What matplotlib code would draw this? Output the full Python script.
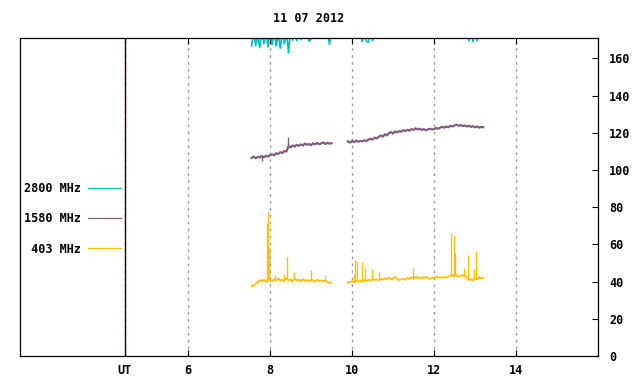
import numpy as np
import matplotlib
matplotlib.use('Agg')
import matplotlib.pyplot as plt

title = '11 07 2012'
step = 0.05
seg_starts = [7.55, 9.90]
ut_pos = 4.46
x_ticks = [6, 8, 10, 12, 14]
y_ticks = [0, 20, 40, 60, 80, 100, 120, 140, 160]

# 403 MHz
f403_a = [37.5, 37.8, 38.8, 39.6, 40.8, 40.2, 41.0, 39.8, 41.5, 40.6,
          40.2, 41.3, 40.5, 41.8, 40.4, 41.0, 40.2, 42.0, 40.5, 41.2,
          40.0, 41.6, 40.6, 41.0, 40.1, 41.4, 40.3, 40.9, 40.0, 41.2,
          40.4, 40.0, 41.0, 40.3, 40.6, 40.0, 40.8, 39.6, 39.4, 39.5]
f403_b = [39.5, 39.8, 40.2, 39.6, 40.4, 40.0, 40.6, 39.8, 40.8, 40.2,
          41.0, 40.4, 41.5, 40.8, 41.2, 40.6, 41.6, 41.0, 41.8, 41.2,
          42.2, 41.0, 41.8, 42.6, 41.4, 40.8, 41.2, 41.6, 41.0, 42.0,
          41.4, 42.4, 41.6, 42.8, 42.0, 41.6, 42.4, 41.8, 42.6, 42.0,
          41.4, 41.8, 42.3, 42.4, 42.2, 42.4, 42.0, 42.6, 42.2, 42.8,
          43.2, 43.6, 42.8, 43.4, 42.6, 43.0, 43.6, 42.8, 42.2, 40.8,
          41.4, 40.6, 42.0, 41.2, 42.4, 41.6, 42.0]
f403_spike_t = [7.915, 7.945, 7.97, 8.12, 8.34, 8.415, 8.585, 9.005, 9.34,
                10.045, 10.07, 10.12, 10.24, 10.32, 10.49, 10.66, 11.49,
                12.415, 12.49, 12.515, 12.73, 12.83, 12.975, 13.025]
f403_spike_v = [71.7, 77.7, 58.7, 43.6, 44.0, 53.3, 45.0, 46.0, 43.6,
                43.6, 51.7, 51.2, 50.6, 47.4, 46.9, 45.3, 47.4,
                66.3, 65.2, 55.5, 47.4, 54.4, 47.0, 56.6]

# 1580 MHz
f1580_a = [106.5, 107.2, 106.4, 107.0, 106.8, 107.5, 106.9, 107.6, 107.2, 108.0,
           108.4, 108.0, 109.0, 108.6, 109.6, 109.2, 110.2, 110.0, 112.8, 112.2,
           113.2, 112.6, 113.6, 113.0, 113.8, 113.2, 114.2, 113.6, 114.0, 113.4,
           114.4, 113.8, 114.6, 113.9, 114.3, 114.8, 114.0, 114.6, 114.2, 114.4]
f1580_b = [115.4, 114.8, 115.6, 115.0, 115.8, 115.2, 115.6, 115.4, 116.0, 115.6,
           116.4, 116.8, 116.4, 117.4, 117.0, 117.8, 118.6, 118.0, 119.2, 118.6,
           119.8, 120.4, 119.6, 120.8, 120.2, 121.0, 120.6, 121.4, 121.0, 121.6,
           121.2, 122.0, 121.6, 122.4, 121.8, 122.2, 121.6, 122.0, 121.4, 121.8,
           122.2, 121.8, 122.0, 122.6, 122.2, 122.8, 123.2, 122.8, 123.4, 123.0,
           123.8, 123.4, 124.0, 124.4, 123.8, 124.2, 123.6, 124.0, 123.4, 123.8,
           123.2, 123.6, 123.0, 123.4, 122.8, 123.2, 123.0]
f1580_spike_t = [7.81, 8.44]
f1580_spike_v = [105.0, 117.5]

# 2800 MHz (mostly above the top of the plot)
f2800_a = [166.5, 175.0, 167.0, 172.0, 165.8, 175.0, 168.0, 174.0, 166.2, 175.0,
           167.4, 175.0, 166.8, 173.0, 165.5, 175.0, 167.8, 175.0, 163.0, 175.0,
           169.8, 175.0, 169.6, 175.0, 170.0, 175.0, 175.0, 175.0, 169.2, 170.4,
           175.0, 175.0, 175.0, 175.0, 175.0, 175.0, 175.0, 175.0, 167.5, 175.0]
f2800_b = [175.0, 175.0, 175.0, 175.0, 175.0, 175.0, 175.0, 169.0, 175.0, 169.2,
           168.8, 175.0, 169.4, 175.0, 175.0, 175.0, 175.0, 175.0, 175.0, 175.0,
           175.0, 175.0, 175.0, 175.0, 175.0, 175.0, 175.0, 175.0, 175.0, 175.0,
           175.0, 175.0, 175.0, 175.0, 175.0, 175.0, 175.0, 175.0, 175.0, 175.0,
           175.0, 175.0, 175.0, 175.0, 175.0, 175.0, 175.0, 175.0, 175.0, 175.0,
           175.0, 175.0, 175.0, 175.0, 175.0, 175.0, 175.0, 175.0, 175.0, 169.4,
           175.0, 169.0, 175.0, 169.6, 175.0, 175.0, 175.0]


def build(parts):
    ts, vs = [], []
    for t0, vals in zip(seg_starts, parts):
        ts += list(t0 + step * np.arange(len(vals))) + [np.nan]
        vs += list(vals) + [np.nan]
    return np.array(ts), np.array(vs)


def spikes(ax, t, v, spike_t, spike_v, color):
    # thin vertical bursts, starting from the nearest sample of the series
    ok = ~np.isnan(v)
    base = [v[ok][np.argmin(np.abs(t[ok] - st))] for st in spike_t]
    ax.vlines(spike_t, base, spike_v, color=color, lw=1.0)


plt.rcParams['font.family'] = 'DejaVu Sans Mono'
plt.rcParams['font.weight'] = 'bold'
plt.rcParams['font.size'] = 8.5

fig = plt.figure(figsize=(6.4, 3.84), dpi=100)
ax = fig.add_axes([20 / 640, 1 - 356 / 384, 578 / 640, 318 / 384])

t, v = build([f2800_a, f2800_b])
l1, = ax.plot(t, v, color='#00c0c0', lw=1.2, label='2800 MHz')
t, v = build([f1580_a, f1580_b])
l2, = ax.plot(t, v, color='#7f5f80', lw=1.6, label='1580 MHz')
spikes(ax, t, v, f1580_spike_t, f1580_spike_v, '#7f5f80')
t, v = build([f403_a, f403_b])
l3, = ax.plot(t, v, color='#ffc000', lw=1.3, label=' 403 MHz')
spikes(ax, t, v, f403_spike_t, f403_spike_v, '#ffc000')

ax.axvline(ut_pos, color='#300000', lw=1)

ax.set_xlim(1.9, 16.0)
ax.set_ylim(0, 171)
ax.set_xticks([ut_pos] + x_ticks)
ax.set_xticklabels(['UT'] + [str(x) for x in x_ticks])
ax.set_yticks(y_ticks)
ax.yaxis.tick_right()
ax.tick_params(axis='y', direction='in', length=4, width=0.8, pad=8, right=True, left=False)
ax.tick_params(axis='x', direction='in', length=4, width=0.8, pad=6, top=True)
ax.xaxis.grid(True, color='#a0a0a0', linestyle=(0, (2, 3)), lw=1)
for s in ax.spines.values():
    s.set_linewidth(0.9)

leg = ax.legend(handles=[l1, l2, l3], loc='center right', bbox_to_anchor=(0.175, 0.431),
                frameon=False, markerfirst=False, handlelength=2.8, handletextpad=0.6,
                labelspacing=1.45, borderpad=0, borderaxespad=0)
for h in leg.legend_handles:
    h.set_linewidth(0.9)

fig.text(309 / 640, 1 - 18 / 384, title, ha='center', va='center')

plt.savefig('out.png', dpi=100)
